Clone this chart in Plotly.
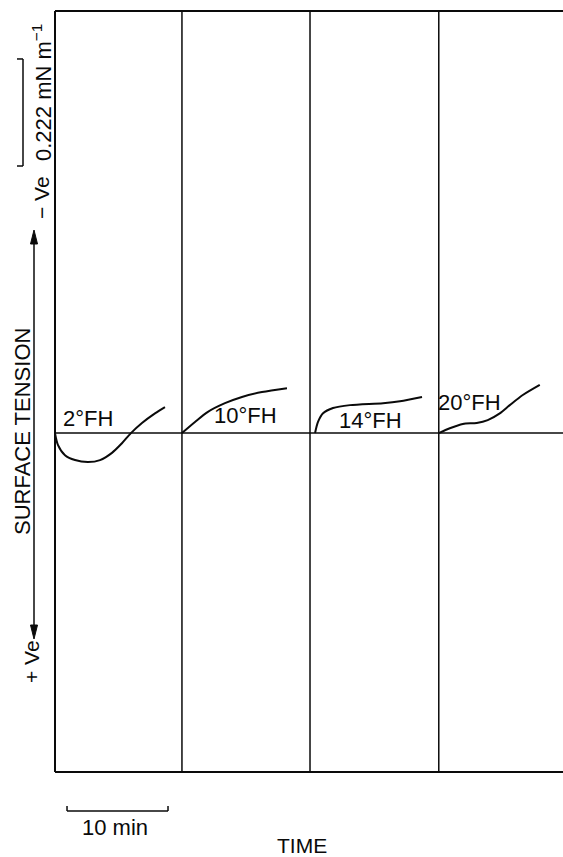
import plotly.graph_objects as go

# ---- data (time in min relative to each panel start, surface tension change in mN m^-1; up = -Ve) ----
panel_starts = [0.0, 12.57, 25.25, 38.0]
labels = ["2°FH", "10°FH", "14°FH", "20°FH"]

t1 = [0, 0.30, 0.99, 1.98, 3.27, 4.46, 5.64, 6.63, 7.52, 8.61, 9.90, 10.89]
v1 = [0, -0.025, -0.046, -0.056, -0.060, -0.056, -0.041, -0.021, 0, 0.021, 0.041, 0.054]

t2 = [0, 1.29, 2.57, 4.26, 5.94, 7.92, 10.40]
v2 = [0, 0.023, 0.044, 0.062, 0.075, 0.085, 0.093]

t3 = [0.50, 0.79, 1.29, 2.28, 3.96, 7.23, 8.91, 11.09]
v3 = [0, 0.023, 0.041, 0.052, 0.058, 0.062, 0.066, 0.075]

t4 = [0, 1.09, 2.38, 3.76, 4.85, 6.04, 7.03, 8.32, 10.0]
v4 = [0, 0.010, 0.019, 0.021, 0.027, 0.041, 0.058, 0.079, 0.100]

label_t = [3.27, 6.34, 5.94, 3.09]   # relative to panel start
label_v = [0.031, 0.037, 0.027, 0.064]

x_range = [0, 50.3]
y_range = [-0.703, 0.8755]
scale_min = 10          # min, time scale bar
scale_st = 0.222        # mN m^-1, surface tension scale bar
scale_st_top = 0.776

FONT = "Liberation Sans, Arial, Helvetica, sans-serif"
INK = "#0a0a0a"

W, H = 563, 857
ML, MR, MT, MB = 55, 0, 11, 85
PW, PH = W - ML - MR, H - MT - MB


def px(xp):
    return (xp - ML) / PW


def py(yp):
    return (H - MB - yp) / PH


fig = go.Figure()
series = [(t1, v1), (t2, v2), (t3, v3), (t4, v4)]
for start, (ts, vs) in zip(panel_starts, series):
    fig.add_trace(go.Scatter(
        x=[start + t for t in ts], y=vs, mode="lines",
        line=dict(color=INK, width=2, shape="spline", smoothing=0.8),
        showlegend=False, hoverinfo="skip"))

shapes = []


def seg(x0, y0, x1, y1, xref="paper", yref="paper", w=1.5):
    shapes.append(dict(type="line", xref=xref, yref=yref, x0=x0, y0=y0, x1=x1, y1=y1,
                       line=dict(color=INK, width=w)))


# frame: left, top, bottom (no right border)
seg(0, 0, 0, 1, w=2)
seg(0, 1, 1, 1, w=2)
seg(0, 0, 1, 0, w=2)
# panel divider lines
for start in panel_starts[1:]:
    seg(start, 0, start, 1, xref="x", w=1.5)
# baseline
seg(0, 0, 1, 0, yref="y", w=1.5)

# time scale bar (10 min) below the plot
xs0 = 1.19 / x_range[1]
xs1 = (1.19 + scale_min) / x_range[1]
yb, ytk = py(811), py(806)
seg(xs0, yb, xs1, yb)
seg(xs0, yb, xs0, ytk)
seg(xs1, yb, xs1, ytk)

# surface tension scale bar
bx, btk = px(23), px(17)
ytop = scale_st_top
ybot = scale_st_top - scale_st
seg(bx, ytop, bx, ybot, yref="y")
seg(bx, ytop, btk, ytop, yref="y")
seg(bx, ybot, btk, ybot, yref="y")

# double-headed arrow
ax_ = 34
seg(px(ax_), py(236), px(ax_), py(633))
for tip, base in [(230, 244), (639, 625)]:
    shapes.append(dict(type="path", xref="paper", yref="paper",
                       path=f"M {px(ax_)} {py(tip)} L {px(ax_ - 3.5)} {py(base)} L {px(ax_ + 3.5)} {py(base)} Z",
                       fillcolor=INK, line=dict(color=INK, width=1)))

annotations = []
for start, lab, lt, lv in zip(panel_starts, labels, label_t, label_v):
    annotations.append(dict(x=start + lt, y=lv, xref="x", yref="y", text=lab, showarrow=False,
                            font=dict(family=FONT, size=22, color=INK)))


def paper_text(text, x, y, size=22, angle=0):
    annotations.append(dict(x=px(x), y=py(y), xref="paper", yref="paper", text=text, showarrow=False,
                            textangle=angle, font=dict(family=FONT, size=size, color=INK),
                            xanchor="center", yanchor="middle"))


paper_text("10 min", 115, 827, 22)
paper_text("TIME", 302, 845, 21)
paper_text("SURFACE TENSION", 22, 432, 22, -90)
paper_text("\u2212 Ve", 42, 198, 21, -90)
paper_text("+ Ve", 31, 662, 21, -90)
paper_text("0.222 mN m<sup>\u22121</sup>", 42, 93, 22, -90)

fig.update_layout(
    width=W, height=H,
    margin=dict(l=ML, r=MR, t=MT, b=MB),
    paper_bgcolor="white", plot_bgcolor="white",
    shapes=shapes, annotations=annotations,
    xaxis=dict(range=x_range, showgrid=False, zeroline=False, showticklabels=False, ticks="",
               showline=False),
    yaxis=dict(range=y_range, showgrid=False, zeroline=False, showticklabels=False, ticks="",
               showline=False),
)

fig.write_html("out.html")
